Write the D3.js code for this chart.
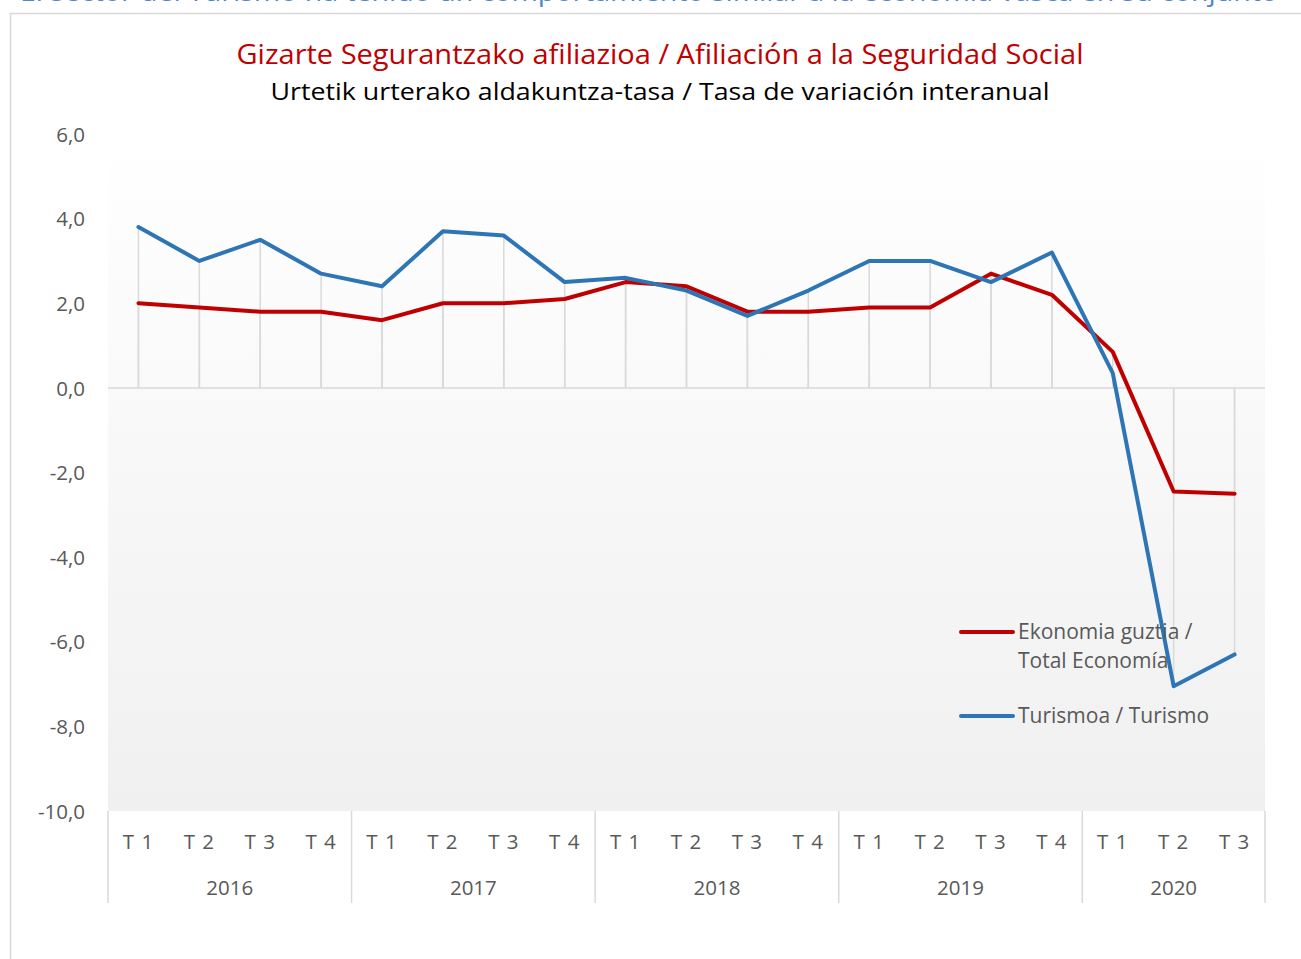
<!DOCTYPE html>
<html lang="es">
<head>
<meta charset="UTF-8">
<title>Afiliación a la Seguridad Social</title>
<style>
  body { margin: 0; background: #fff; }
  svg { display: block; font-family: "Open Sans", "Noto Sans", sans-serif; }
</style>
</head>
<body>
<script src="https://cdn.jsdelivr.net/npm/d3@7"></script>
<script>
// data
var years = ["2016", "2017", "2018", "2019", "2020"];
var quarters = ["T 1", "T 2", "T 3", "T 4", "T 1", "T 2", "T 3", "T 4", "T 1", "T 2", "T 3", "T 4",
                "T 1", "T 2", "T 3", "T 4", "T 1", "T 2", "T 3"];
var quarterYear = [0,0,0,0, 1,1,1,1, 2,2,2,2, 3,3,3,3, 4,4,4];
var totalEconomia = [2.0, 1.9, 1.8, 1.8, 1.6, 2.0, 2.0, 2.1, 2.5, 2.4, 1.8, 1.8, 1.9, 1.9, 2.7, 2.2, 0.85, -2.45, -2.5];
var turismo = [3.8, 3.0, 3.5, 2.7, 2.4, 3.7, 3.6, 2.5, 2.6, 2.3, 1.7, 2.3, 3.0, 3.0, 2.5, 3.2, 0.35, -7.05, -6.3];
var yTicks = [6, 4, 2, 0, -2, -4, -6, -8, -10];

var series = [
  {name: ["Ekonomia guztia /", "Total Economía"], values: totalEconomia, color: "#c00000"},
  {name: ["Turismoa / Turismo"], values: turismo, color: "#2e75b6"}
];

var W = 1301, H = 959;
var plot = {left: 108, right: 1265, top: 134, bottom: 811};
var labelSize = 20.5;

var svg = d3.select("body").append("svg")
  .attr("width", W)
  .attr("height", H);

// heading of the page, cut by the top edge as in the original
svg.append("text")
  .attr("x", 20).attr("y", 1)
  .attr("textLength", 1258).attr("lengthAdjust", "spacingAndGlyphs")
  .attr("font-size", 25)
  .attr("fill", "#4a89d0")
  .text("El sector del Turismo ha tenido un comportamiento similar a la economía vasca en su conjunto");

// chart frame
svg.append("rect")
  .attr("x", 10.5).attr("y", 13.5)
  .attr("width", 1320).attr("height", 1000)
  .attr("fill", "#fff")
  .attr("stroke", "#d9d9d9")
  .attr("stroke-width", 1.5);

// titles
svg.append("text")
  .attr("x", 660).attr("y", 64)
  .attr("text-anchor", "middle")
  .attr("textLength", 847).attr("lengthAdjust", "spacingAndGlyphs")
  .attr("font-size", 27)
  .attr("fill", "#c00000")
  .text("Gizarte Segurantzako afiliazioa / Afiliación a la Seguridad Social");

svg.append("text")
  .attr("x", 660).attr("y", 100)
  .attr("text-anchor", "middle")
  .attr("textLength", 779).attr("lengthAdjust", "spacingAndGlyphs")
  .attr("font-size", 24)
  .attr("fill", "#000")
  .text("Urtetik urterako aldakuntza-tasa / Tasa de variación interanual");

// scales
var x = d3.scaleBand()
  .domain(d3.range(quarters.length))
  .range([plot.left, plot.right]);

var y = d3.scaleLinear()
  .domain([-10, 6])
  .range([plot.bottom, plot.top]);

// plot background
var grad = svg.append("defs").append("linearGradient")
  .attr("id", "bg").attr("x1", 0).attr("y1", 0).attr("x2", 0).attr("y2", 1);
grad.append("stop").attr("offset", "0%").attr("stop-color", "#ffffff");
grad.append("stop").attr("offset", "100%").attr("stop-color", "#f0f0f0");

svg.append("rect")
  .attr("x", plot.left).attr("y", plot.top)
  .attr("width", plot.right - plot.left)
  .attr("height", plot.bottom - plot.top)
  .attr("fill", "url(#bg)");

// drop lines from each point to the zero axis
var g = svg.append("g");
series.forEach(function(s) {
  g.selectAll(null)
    .data(s.values)
    .enter()
    .append("line")
    .attr("x1", function(d, i) { return x(i) + x.bandwidth() / 2; })
    .attr("x2", function(d, i) { return x(i) + x.bandwidth() / 2; })
    .attr("y1", y(0))
    .attr("y2", function(d) { return y(d); })
    .attr("stroke", "#d9d9d9")
    .attr("stroke-width", 1.5);
});

// zero axis line
svg.append("line")
  .attr("x1", plot.left).attr("x2", plot.right)
  .attr("y1", y(0)).attr("y2", y(0))
  .attr("stroke", "#d9d9d9")
  .attr("stroke-width", 1.5);

// y axis labels (plain hyphen, decimal comma)
var yAxis = d3.axisLeft(y)
  .tickValues(yTicks)
  .tickSize(0)
  .tickPadding(0)
  .tickFormat(function(d) { return d.toFixed(1).replace(".", ","); });

var yg = svg.append("g")
  .attr("transform", "translate(85,0)")
  .call(yAxis);
yg.select(".domain").remove();
yg.selectAll("text")
  .attr("font-size", labelSize)
  .attr("font-family", "\"Open Sans\", sans-serif")
  .attr("fill", "#595959")
  .attr("dy", "0.35em");

// category axis (quarters and years)
var xAxis = d3.axisBottom(x)
  .tickSize(0)
  .tickPadding(0)
  .tickFormat(function(i) { return quarters[i]; });

var xg = svg.append("g")
  .attr("transform", "translate(0," + (plot.bottom + 31) + ")")
  .call(xAxis);
xg.select(".domain").remove();
xg.selectAll("text")
  .attr("font-size", labelSize)
  .attr("font-family", "\"Open Sans\", sans-serif")
  .attr("fill", "#595959")
  .attr("letter-spacing", 1)
  .attr("dy", "0.35em");

// year groups
var groups = years.map(function(yr, k) {
  var idx = quarterYear.map(function(q, i) { return q === k ? i : -1; }).filter(function(i) { return i >= 0; });
  return {year: yr, first: d3.min(idx), last: d3.max(idx)};
});

svg.selectAll(".yr")
  .data(groups)
  .enter()
  .append("text")
  .attr("class", "yr")
  .attr("x", function(d) { return (x(d.first) + x(d.last) + x.bandwidth()) / 2; })
  .attr("y", plot.bottom + 77)
  .attr("dy", "0.35em")
  .attr("text-anchor", "middle")
  .attr("font-size", labelSize)
  .attr("fill", "#595959")
  .text(function(d) { return d.year; });

var seps = [groups[0].first].concat(groups.map(function(d) { return d.last + 1; }));
svg.selectAll(".sep")
  .data(seps)
  .enter()
  .append("line")
  .attr("class", "sep")
  .attr("x1", function(i) { return i < quarters.length ? x(i) : plot.right; })
  .attr("x2", function(i) { return i < quarters.length ? x(i) : plot.right; })
  .attr("y1", plot.bottom)
  .attr("y2", plot.bottom + 92)
  .attr("stroke", "#d9d9d9")
  .attr("stroke-width", 1.5);

// lines
var line = d3.line()
  .x(function(d, i) { return x(i) + x.bandwidth() / 2; })
  .y(function(d) { return y(d); });

svg.selectAll(".series")
  .data(series)
  .enter()
  .append("path")
  .attr("class", "series")
  .attr("d", function(s) { return line(s.values); })
  .attr("fill", "none")
  .attr("stroke", function(s) { return s.color; })
  .attr("stroke-width", 4)
  .attr("stroke-linejoin", "round")
  .attr("stroke-linecap", "round");

// legend
var legendY = [632, 716];
var lg = svg.selectAll(".legend")
  .data(series)
  .enter()
  .append("g")
  .attr("class", "legend")
  .attr("transform", function(d, i) { return "translate(961," + legendY[i] + ")"; });

lg.append("line")
  .attr("x1", 0).attr("x2", 52)
  .attr("stroke", function(d) { return d.color; })
  .attr("stroke-width", 4)
  .attr("stroke-linecap", "round");

lg.each(function(d) {
  var t = d3.select(this).append("text")
    .attr("x", 57)
    .attr("font-size", 21)
    .attr("fill", "#595959");
  d.name.forEach(function(n, k) {
    t.append("tspan")
      .attr("x", 57)
      .attr("y", k * 29)
      .attr("dy", "0.35em")
      .text(n);
  });
});
</script>
</body>
</html>
